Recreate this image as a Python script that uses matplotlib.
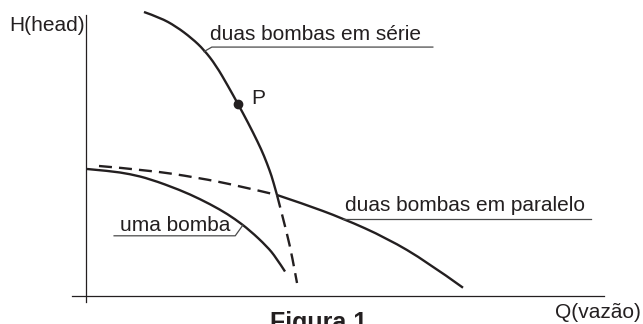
import matplotlib
matplotlib.use('Agg')
from matplotlib import pyplot as plt
from matplotlib.path import Path
from matplotlib.patches import PathPatch

plt.rcParams['font.family'] = ['Liberation Sans', 'DejaVu Sans']

# curvas (Q = vazão, H = altura), unidades arbitrárias
serie_q = [11.15, 14.23, 17.31, 20.38, 22.69, 25.0, 27.31, 29.23, 31.15, 33.08, 34.23, 35.38, 35.96, 36.73]
serie_h = [101.43, 99.43, 96.29, 92.0, 87.93, 82.36, 75.0, 68.57, 61.96, 54.82, 50.11, 44.54, 41.21, 36.07]

serie_tr_q = [36.73, 37.88, 39.23, 40.19, 40.58]
serie_tr_h = [36.07, 27.86, 17.86, 8.57, 4.64]

paralelo_tr_q = [2.5, 11.73, 21.35, 29.62, 36.73]
paralelo_tr_h = [46.43, 45.0, 42.32, 39.25, 36.07]

paralelo_q = [36.73, 41.73, 49.42, 57.88, 65.58, 72.5]
paralelo_h = [36.07, 32.99, 27.71, 20.64, 12.21, 2.96]

uma_q = [0.19, 4.62, 8.46, 12.31, 18.08, 21.92, 25.77, 28.65, 31.54, 34.81, 36.54, 38.27]
uma_h = [45.36, 44.64, 43.57, 41.79, 37.86, 34.64, 30.89, 27.5, 23.39, 17.68, 13.75, 8.75]

ponto_p = (29.23, 68.57)

cor = '#231f20'
cor_linha = '#4a4a4a'


# curva suave (bezier quadrática pelos pontos lidos)
def curva(ax, q, h, **kw):
    verts = [(q[0], h[0])]
    codes = [Path.MOVETO]
    n = len(q)
    for i in range(1, n - 1):
        if i < n - 2:
            fim = ((q[i] + q[i + 1]) / 2, (h[i] + h[i + 1]) / 2)
        else:
            fim = (q[-1], h[-1])
        verts += [(q[i], h[i]), fim]
        codes += [Path.CURVE3, Path.CURVE3]
    ax.add_patch(PathPatch(Path(verts, codes), fill=False, **kw))


fig = plt.figure(figsize=(6.43, 3.24), dpi=100)
ax = fig.add_axes([0, 0, 1, 1])
ax.set_xlim(-16.538, 107.115)
ax.set_ylim(-10, 105.714)

# eixos
for s in ['top', 'right']:
    ax.spines[s].set_visible(False)
ax.spines['left'].set_position(('data', 0))
ax.spines['bottom'].set_position(('data', 0))
ax.spines['left'].set_bounds(-2.1, 100.4)
ax.spines['bottom'].set_bounds(-2.7, 99.6)
for s in ['left', 'bottom']:
    ax.spines[s].set_color(cor)
    ax.spines[s].set_linewidth(0.9)
ax.set_xticks([])
ax.set_yticks([])

lw = 1.7
curva(ax, serie_q, serie_h, edgecolor=cor, lw=lw, capstyle='butt')
curva(ax, serie_tr_q, serie_tr_h, edgecolor=cor, lw=lw, ls=(0, (5.5, 3)))
curva(ax, paralelo_tr_q, paralelo_tr_h, edgecolor=cor, lw=lw, ls=(0, (5.5, 3)))
curva(ax, paralelo_q, paralelo_h, edgecolor=cor, lw=lw, capstyle='butt')
curva(ax, uma_q, uma_h, edgecolor=cor, lw=lw, capstyle='butt')
ax.plot(*ponto_p, 'o', color=cor, ms=6)

fs = 15
ax.text(-14.8, 94.6, 'H(head)', fontsize=fs, color=cor, va='baseline')
ax.text(90.2, -7.9, 'Q(vazão)', fontsize=fs, color=cor, va='baseline')
ax.text(31.7, 68.6, 'P', fontsize=fs, color=cor, va='baseline')

ax.text(23.8, 91.4, 'duas bombas em série', fontsize=fs, color=cor, va='baseline')
ax.plot([22.7, 24.2, 66.7], [87.3, 88.9, 88.9], color=cor_linha, lw=0.9)

ax.text(6.5, 23.2, 'uma bomba', fontsize=fs, color=cor, va='baseline')
ax.plot([5.4, 28.7, 30.2], [21.5, 21.5, 25.4], color=cor_linha, lw=0.9)

ax.text(49.8, 30.5, 'duas bombas em paralelo', fontsize=fs, color=cor, va='baseline')
ax.plot([49.4, 97.1], [27.5, 27.5], color=cor_linha, lw=0.9)

ax.text(35.4, -12.1, 'Figura 1', fontsize=18, fontweight='bold', color=cor, va='baseline')

fig.savefig('out.png', dpi=100)
